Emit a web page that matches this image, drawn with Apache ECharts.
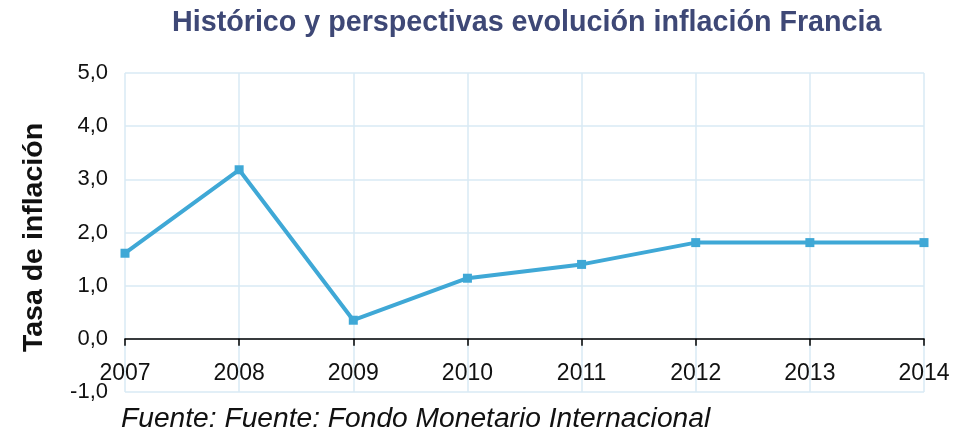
<!DOCTYPE html>
<html><head><meta charset="utf-8">
<script src="https://cdn.jsdelivr.net/npm/echarts@6/dist/echarts.min.js"></script>
<style>html,body{margin:0;padding:0;background:#fff;}#c{width:969px;height:435px;}</style>
</head><body><div id="c"></div>
<script>
const years = ['2007','2008','2009','2010','2011','2012','2013','2014'];
const inflation = [1.61, 3.18, 0.35, 1.14, 1.40, 1.81, 1.81, 1.81];
const yTicks = [-1, 0, 1, 2, 3, 4, 5];

const chart = echarts.init(document.getElementById('c'));
const F = '"Liberation Sans", Arial, sans-serif';
const gridTop = 73, gridBottom = 43, H = 435;
const unit = (H - gridTop - gridBottom) / (yTicks[yTicks.length-1] - yTicks[0]);
chart.setOption({
  animation: false,
  title: {
    text: 'Histórico y perspectivas evolución inflación Francia',
    left: 167, top: 4,
    textStyle: { fontFamily: F, fontSize: 28.7, fontWeight: 'bold', color: '#3e4876' }
  },
  graphic: [{
    type: 'text', left: 121, top: 405,
    style: { text: 'Fuente: Fuente: Fondo Monetario Internacional', fontFamily: F, fontSize: 28.2, fontStyle: 'italic', fill: '#111' }
  }],
  grid: { left: 125, right: 45, top: gridTop, bottom: gridBottom },
  xAxis: {
    type: 'category', data: years, boundaryGap: false,
    offset: -unit * (0 - yTicks[0]),
    axisLine: { onZero: false, lineStyle: { color: '#000', width: 1.5 } },
    axisTick: { show: true, length: 7, lineStyle: { color: '#000', width: 1.5 } },
    axisLabel: { fontFamily: F, fontSize: 23, color: '#111', margin: 23 },
    splitLine: { show: true, lineStyle: { color: '#d8eaf4', width: 1.5 } }
  },
  yAxis: {
    type: 'value', min: yTicks[0], max: yTicks[yTicks.length-1], interval: 1,
    name: 'Tasa de inflación', nameLocation: 'middle', nameGap: 76, nameRotate: 90,
    nameTextStyle: { fontFamily: F, fontSize: 28.5, fontWeight: 'bold', color: '#111', padding: [0, 10, 0, 0] },
    axisLine: { show: false }, axisTick: { show: false },
    axisLabel: { fontFamily: F, fontSize: 22, color: '#111', margin: 17,
      formatter: v => v.toFixed(1).replace('.', ',') },
    splitLine: { show: true, lineStyle: { color: '#d8eaf4', width: 1.5 } }
  },
  series: [{
    type: 'line', data: inflation,
    symbol: 'rect', symbolSize: 9,
    lineStyle: { color: '#3fa8d6', width: 4 },
    itemStyle: { color: '#3fa8d6' }
  }]
});
</script></body></html>
